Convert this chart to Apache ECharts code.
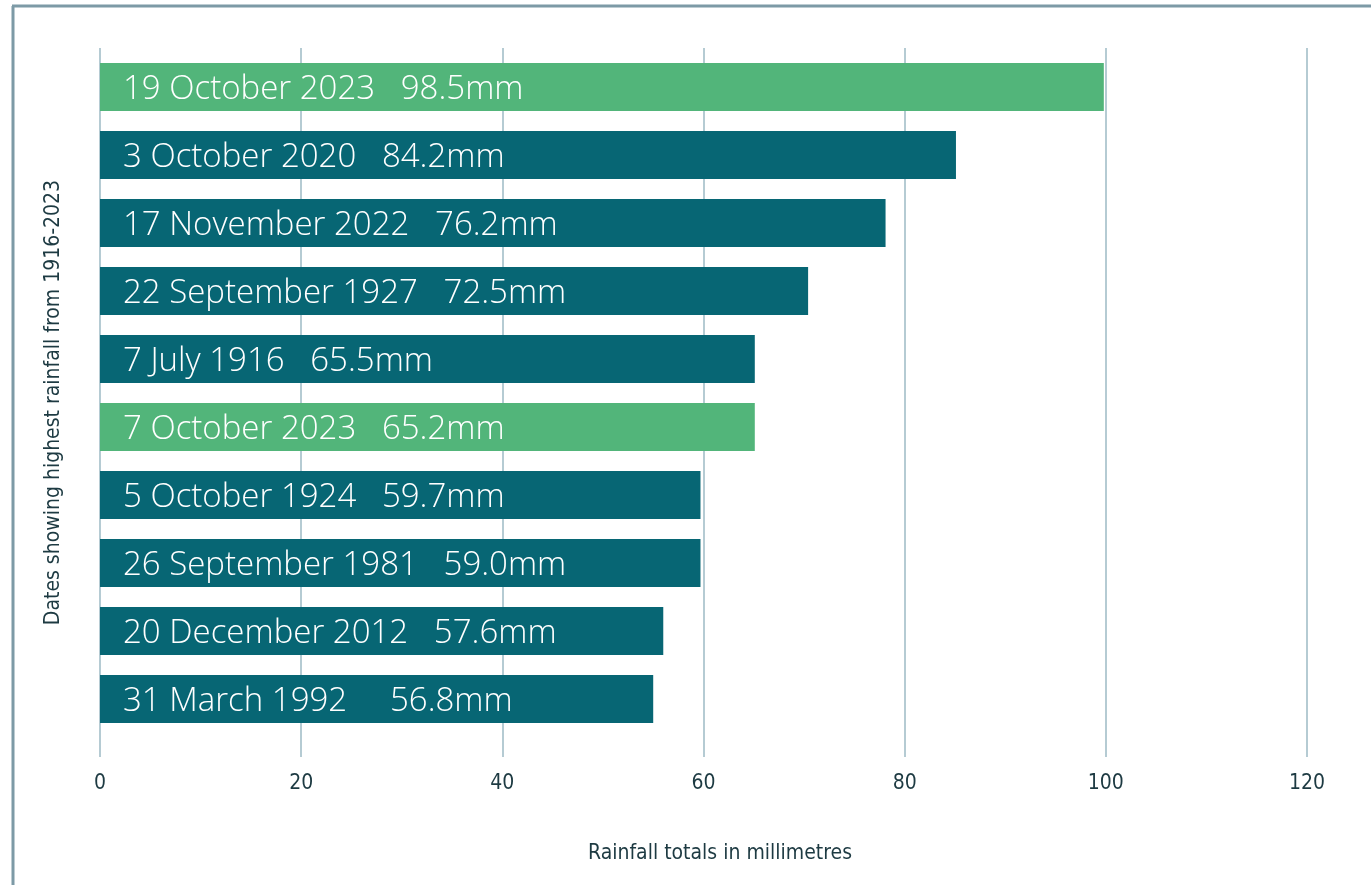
<!DOCTYPE html>
<html>
<head>
<meta charset="utf-8">
<script src="https://cdn.jsdelivr.net/npm/echarts@6/dist/echarts.min.js"></script>
<style>
html,body{margin:0;padding:0;background:#fff;}
#c{width:1371px;height:885px;}
</style>
</head>
<body>
<div id="c"></div>
<script>
const dates = ['19 October 2023','3 October 2020','17 November 2022','22 September 1927','7 July 1916','7 October 2023','5 October 1924','26 September 1981','20 December 2012','31 March 1992'];
const valueLabels = ['98.5mm','84.2mm','76.2mm','72.5mm','65.5mm','65.2mm','59.7mm','59.0mm','57.6mm','56.8mm'];
const gaps = ['   ','   ','   ','   ','   ','   ','   ','   ','   ','     '];
const barValues = [99.8, 85.1, 78.1, 70.4, 65.1, 65.1, 59.7, 59.7, 56.0, 55.0];
const highlighted = [true,false,false,false,false,true,false,false,false,false];
const xMin = 0, xMax = 120, xStep = 20;
const yTitle = 'Dates showing highest rainfall from 1916-2023';
const xTitle = 'Rainfall totals in millimetres';

const GREEN = '#52b57a', TEAL = '#076674';
const axisFont = "'Liberation Sans Narrow','DejaVu Sans Condensed','Roboto',sans-serif";

const chart = echarts.init(document.getElementById('c'), null, {renderer:'canvas'});
chart.setOption({
  animation:false,
  backgroundColor:'#fff',
  graphic:[
    {type:'line', shape:{x1:13, y1:6, x2:13, y2:885}, style:{stroke:'#7d9aa6', lineWidth:3}},
    {type:'line', shape:{x1:12, y1:6, x2:1371, y2:6}, style:{stroke:'#7d9aa6', lineWidth:3}}
  ],
  grid:[
    {left:100, right:64, top:48, bottom:128},
    {left:100, right:64, top:53, height:680}
  ],
  xAxis:[
    {gridIndex:0, type:'value', min:xMin, max:xMax, interval:xStep,
     axisLine:{show:false}, axisTick:{show:false},
     splitLine:{show:true, lineStyle:{color:'#9dbac4', width:1.5}},
     axisLabel:{margin:16, color:'#1d3a42', fontSize:21, fontFamily:axisFont},
     name:xTitle, nameLocation:'middle', nameGap:86,
     nameTextStyle:{color:'#1d3a42', fontSize:21, fontFamily:axisFont, padding:[0,0,0,33]}},
    {gridIndex:1, type:'value', min:xMin, max:xMax, interval:xStep, show:false}
  ],
  yAxis:[
    {gridIndex:0, type:'value', min:0, max:1, show:true,
     axisLine:{show:false}, axisTick:{show:false}, axisLabel:{show:false}, splitLine:{show:false},
     name:yTitle, nameLocation:'middle', nameGap:36, nameRotate:90,
     nameTextStyle:{color:'#1d3a42', fontSize:21, fontFamily:axisFont}},
    {gridIndex:1, type:'category', data:dates, inverse:true, show:false}
  ],
  series:[{
    type:'bar', xAxisIndex:1, yAxisIndex:1, barWidth:48,
    data: barValues.map((v,i)=>({value:v, itemStyle:{color: highlighted[i]?GREEN:TEAL}})),
    label:{show:true, position:'insideLeft', distance:22, offset:[1,3], color:'#fff',
      fontFamily:"'Open Sans','Lato',sans-serif", fontWeight:300, fontSize:33,
      formatter:p=>dates[p.dataIndex]+gaps[p.dataIndex]+valueLabels[p.dataIndex]}
  }]
});
</script>
</body>
</html>
